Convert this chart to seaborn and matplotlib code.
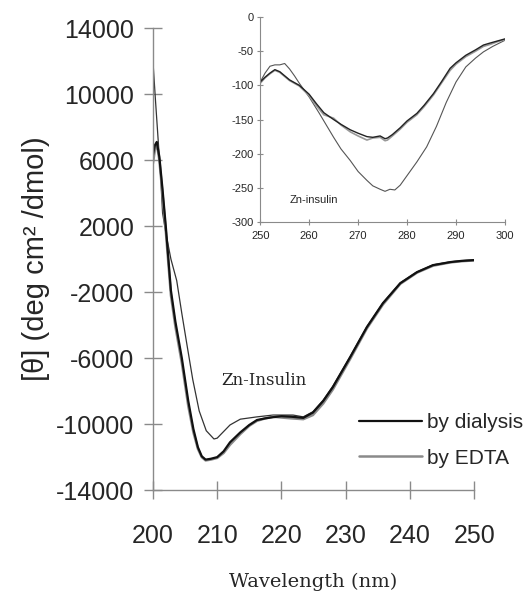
import numpy as np
import pandas as pd
import seaborn as sns
import matplotlib.pyplot as plt

# main panel, far-UV CD
wl_dialysis = [200, 200.3, 200.6, 201, 201.5, 202, 202.8, 203.5, 204.5, 205.5, 206.3, 207, 207.6, 208.2,
               209, 210, 211, 212, 213.6, 215, 216.2, 217.5, 218.7, 220, 221.5, 223.4, 224.9, 226.5,
               228, 230.7, 233.3, 235.8, 238.5, 241.1, 243.6, 246.3, 248, 250]
cd_dialysis = [6300, 6900, 7100, 6200, 4200, 2000, -1900, -3800, -6000, -8600, -10300, -11400, -11950, -12150,
               -12100, -12000, -11650, -11100, -10500, -10050, -9750, -9650, -9580, -9520, -9550, -9620, -9300, -8600,
               -7760, -5940, -4120, -2670, -1460, -790, -365, -180, -110, -60]
wl_edta = wl_dialysis
cd_edta = [5800, 6600, 7000, 6000, 3900, 1700, -2200, -4100, -6300, -8900, -10500, -11500, -12000, -12200,
           -12150, -12050, -11750, -11250, -10600, -10100, -9800, -9650, -9550, -9600, -9650, -9700, -9450, -8750,
           -7900, -6050, -4200, -2750, -1500, -820, -400, -200, -130, -80]
wl_zn = [200, 200.4, 200.8, 201.2, 201.5, 202, 202.8, 203.7, 204.5, 205.3, 206.2, 207.2, 208.3, 209.5,
         210, 211, 212, 213.6, 216.2, 218.7, 221.8, 223.4, 224.9, 226.5, 228, 230.7, 233.3, 235.8,
         238.5, 241.1, 243.6, 246.3, 248, 250]
cd_zn = [12000, 9600, 7300, 5000, 2800, 1600, 0, -1300, -3300, -5200, -7300, -9200, -10400, -10900,
         -10850, -10450, -10050, -9700, -9560, -9450, -9450, -9560, -9250, -8550, -7700, -5900, -4100, -2650,
         -1440, -780, -350, -170, -100, -50]

# inset, near-UV CD
wl_in = [250, 251, 252, 253, 254, 255, 256, 258, 260, 261.5, 263, 265, 266.5, 268.4, 270, 271.8, 273,
         274.5, 275.5, 276, 277, 278.6, 280, 282, 283.5, 285.4, 287, 288.8, 290, 292, 294, 295.6, 297, 298.5, 300]
in_dialysis = [-95, -88, -82, -77, -80, -86, -92, -100, -113, -127, -140, -150, -157, -165, -170, -175, -176,
               -174, -178, -177, -172, -162, -152, -141, -129, -112, -95, -75, -67, -56, -48, -41, -38, -35, -32]
in_edta = [-97, -89, -83, -78, -81, -87, -93, -101, -115, -130, -143, -148, -158, -168, -174, -180, -177,
           -176, -181, -180, -174, -164, -154, -143, -131, -114, -97, -78, -69, -58, -50, -43, -40, -36, -33]
wl_in_zn = [250, 251, 252, 253, 254, 255, 256, 257, 258, 260, 262, 263.5, 265, 266.5, 268.4, 270, 271.8, 273,
            274.5, 275.5, 276.5, 277.5, 278.6, 280, 282, 284, 286, 288, 290, 292, 294, 295.6, 297.5, 300]
in_zn = [-95, -82, -72, -70, -70, -68, -76, -86, -97, -117, -140, -158, -176, -193, -210, -226, -239, -247,
         -252, -255, -252, -253, -246, -232, -212, -190, -160, -125, -95, -73, -60, -51, -43, -34]

sns.set_style("white")
plt.rcParams["font.family"] = ["Liberation Sans", "DejaVu Sans"]
plt.rcParams["axes.unicode_minus"] = False

fig = plt.figure(figsize=(5.31, 5.97), dpi=100)
ax = fig.add_axes([0.288, 0.179, 0.605, 0.774])

sns.lineplot(x=wl_zn, y=cd_zn, ax=ax, color="#333333", lw=0.9, sort=False, label="_nolegend_")
sns.lineplot(x=wl_edta, y=cd_edta, ax=ax, color="#8a8a8a", lw=1.8, sort=False, label="by EDTA")
sns.lineplot(x=wl_dialysis, y=cd_dialysis, ax=ax, color="#111111", lw=1.6, sort=False, label="by dialysis")

ax.set_xlim(200, 250)
ax.set_ylim(-14000, 14000)
ax.set_xticks(range(200, 251, 10))
ax.set_yticks(range(-14000, 14001, 4000))
sns.despine(ax=ax)
for s in ["left", "bottom"]:
    ax.spines[s].set_color("#8a8a8a")
    ax.spines[s].set_linewidth(1.0)
ax.tick_params(axis="both", direction="inout", length=13, width=1, color="#8a8a8a", labelsize=18,
               bottom=True, left=True)
ax.tick_params(axis="x", pad=18)
ax.tick_params(axis="y", pad=7)

ax.set_ylabel("[θ] (deg cm² /dmol)", fontsize=21, labelpad=4)
ax.set_xlabel("Wavelength (nm)", fontsize=14, family="DejaVu Serif", labelpad=18)
ax.text(210.7, -7334, "Zn-Insulin", fontsize=12, family="DejaVu Serif", ha="left", va="center")

h, l = ax.get_legend_handles_labels()
order = [l.index("by dialysis"), l.index("by EDTA")]
ax.legend([h[i] for i in order], [l[i] for i in order], loc="center left",
          bbox_to_anchor=(0.642, 0.108), frameon=False, fontsize=15, handlelength=3.0,
          handletextpad=0.25, labelspacing=0.8, borderpad=0, borderaxespad=0)

# inset
axi = fig.add_axes([0.490, 0.628, 0.461, 0.3435])
sns.lineplot(x=wl_in_zn, y=in_zn, ax=axi, color="#555555", lw=0.8, sort=False)
sns.lineplot(x=wl_in, y=in_edta, ax=axi, color="#999999", lw=1.2, sort=False)
sns.lineplot(x=wl_in, y=in_dialysis, ax=axi, color="#222222", lw=1.0, sort=False)
axi.set_xlim(250, 300)
axi.set_ylim(-300, 0)
axi.set_xticks(range(250, 301, 10))
axi.set_yticks(range(-300, 1, 50))
axi.patch.set_alpha(0)
sns.despine(ax=axi)
for s in ["left", "bottom"]:
    axi.spines[s].set_color("#8a8a8a")
    axi.spines[s].set_linewidth(0.8)
axi.tick_params(axis="both", direction="inout", length=5, width=0.8, color="#8a8a8a", labelsize=8,
                bottom=True, left=True)
axi.tick_params(axis="x", pad=4)
axi.tick_params(axis="y", pad=2)
axi.text(256.1, -268, "Zn-insulin", fontsize=8, ha="left", va="center")

fig.savefig("out.png", dpi=100)
